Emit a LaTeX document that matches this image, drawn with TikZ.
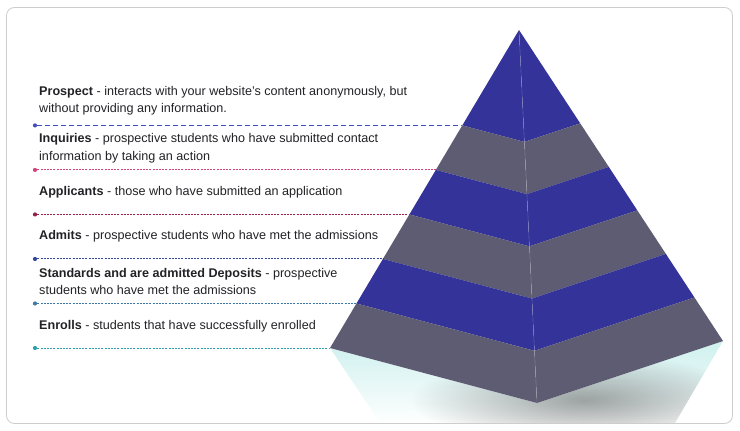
\documentclass[tikz,border=0pt]{standalone}
\usepackage{fontspec}
\setmainfont{Liberation Sans}
\usetikzlibrary{calc,positioning,fadings}
\definecolor{bandblue}{RGB}{51,51,153}
\definecolor{bandgray}{RGB}{93,92,115}
\definecolor{framegray}{RGB}{205,205,205}
\definecolor{txtdark}{RGB}{34,34,38}
\definecolor{leadprospect}{RGB}{66,78,190}
\definecolor{leadinquiry}{RGB}{210,70,125}
\definecolor{leadapplicant}{RGB}{150,30,75}
\definecolor{leadadmit}{RGB}{50,72,155}
\definecolor{leaddeposit}{RGB}{62,122,165}
\definecolor{leadenroll}{RGB}{45,160,172}
\definecolor{reflectcyan}{RGB}{205,240,238}
\tikzfading[name=softshadow,inner color=transparent!0,outer color=transparent!100]
\tikzset{
  desc/.style={anchor=west,align=left,inner sep=0pt,text=txtdark,
               font=\fontsize{12.6}{17.5}\selectfont},
  lead/.style={line width=1pt,dash pattern=on 2pt off 1.2pt},
  leadlong/.style={line width=1pt,dash pattern=on 5pt off 3pt},
  dot/.style={circle,fill,inner sep=0pt,minimum size=4.2pt},
  frame/.style={draw=framegray,line width=0.8pt,rounded corners=8pt},
  seam/.style={white,opacity=0.2,line width=0.6pt},
}

\begin{document}
\begin{tikzpicture}[x=1pt,y=-1pt]
  \useasboundingbox (0,0) rectangle (740,431);

  % pyramid corners
  \coordinate (apex) at (519,30);
  \coordinate (baseL) at (330,348);
  \coordinate (baseC) at (537,403);
  \coordinate (baseR) at (723,341);

  % reflection and shadow under the base
  \begin{scope}
    \clip (baseL) -- (baseC) -- (baseR) -- (675,423) -- (380,423) -- cycle;
    \shade[top color=reflectcyan,bottom color=white] (320,340) rectangle (730,424);
    \fill[black,opacity=0.35,path fading=softshadow]
      (585,400) ellipse [x radius=175,y radius=45];
  \end{scope}

  % bands, top to bottom
  \foreach \i/\ta/\tb/\col in {1/0/0.30/bandblue,2/0.30/0.44/bandgray,3/0.44/0.58/bandblue,
                                 4/0.58/0.72/bandgray,5/0.72/0.86/bandblue,6/0.86/1/bandgray}{
    \fill[\col] ($(apex)!\ta!(baseL)$) -- ($(apex)!\tb!(baseL)$) -- ($(apex)!\tb!(baseC)$)
      -- ($(apex)!\ta!(baseC)$) -- cycle;
    \fill[\col] ($(apex)!\ta!(baseR)$) -- ($(apex)!\tb!(baseR)$) -- ($(apex)!\tb!(baseC)$)
      -- ($(apex)!\ta!(baseC)$) -- cycle;
    \coordinate (edge\i) at ($(apex)!\tb!(baseL)$);
  }
  \draw[seam] (apex) -- (baseC);
  \draw[frame] (6.5,7.5) rectangle (732.5,423.5);

  % descriptions
  \node[desc] (prospect) at (39,100.5)
    {\textbf{Prospect} - interacts with your website's content anonymously, but\\
     without providing any information.};
  \node[desc] (inquiries) at (39,148)
    {\textbf{Inquiries} - prospective students who have submitted contact\\
     information by taking an action};
  \node[desc] (applicants) at (39,192)
    {\textbf{Applicants} - those who have submitted an application};
  \node[desc] (admits) at (39,236)
    {\textbf{Admits} - prospective students who have met the admissions};
  \node[desc] (deposits) at (39,281.5)
    {\textbf{Standards and are admitted Deposits} - prospective\\
     students who have met the admissions};
  \node[desc] (enrolls) at (39,326)
    {\textbf{Enrolls} - students that have successfully enrolled};

  % leader lines
  \foreach \i/\col/\sty in {1/leadprospect/leadlong,2/leadinquiry/lead,3/leadapplicant/lead,
                             4/leadadmit/lead,5/leaddeposit/lead,6/leadenroll/lead}{
    \node[dot,fill=\col] (dot\i) at (35,0 |- edge\i) {};
    \draw[\sty,\col] (dot\i) -- (edge\i);
  }
\end{tikzpicture}
\end{document}
